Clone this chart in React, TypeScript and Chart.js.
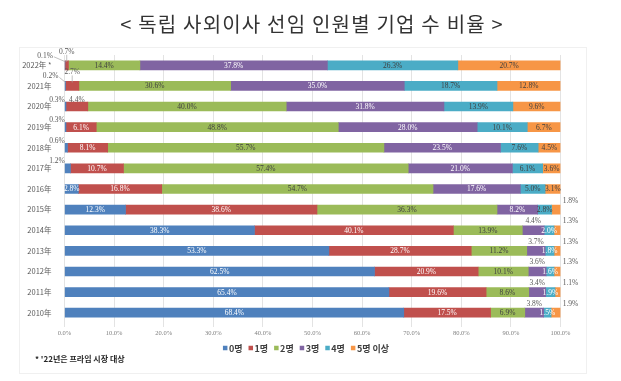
import React, { useEffect, useRef } from 'react';
import { Chart, registerables } from 'chart.js';

Chart.register(...registerables);

const titleText = '< 독립 사외이사 선임 인원별 기업 수 비율 >';
const footnote = "* '22년은 프라임 시장 대상";
const years = ['2022年 *', '2021年', '2020年', '2019年', '2018年', '2017年', '2016年', '2015年', '2014年', '2013年', '2012年', '2011年', '2010年'];
const seriesNames = ['0명', '1명', '2명', '3명', '4명', '5명 이상'];
const zero = [0.1, 0.2, 0.3, 0.3, 0.6, 1.2, 2.8, 12.3, 38.3, 53.3, 62.5, 65.4, 68.4];
const one = [0.7, 2.7, 4.4, 6.1, 8.1, 10.7, 16.8, 38.6, 40.1, 28.7, 20.9, 19.6, 17.5];
const two = [14.4, 30.6, 40.0, 48.8, 55.7, 57.4, 54.7, 36.3, 13.9, 11.2, 10.1, 8.6, 6.9];
const three = [37.8, 35.0, 31.8, 28.0, 23.5, 21.0, 17.6, 8.2, 4.4, 3.7, 3.6, 3.4, 3.8];
const four = [26.3, 18.7, 13.9, 10.1, 7.6, 6.1, 5.0, 2.8, 2.0, 1.8, 1.6, 1.9, 1.5];
const five = [20.7, 12.8, 9.6, 6.7, 4.5, 3.6, 3.1, 1.8, 1.3, 1.3, 1.3, 1.1, 1.9];
const xMin = 0;
const xMax = 100;
const xStep = 10;

const seriesValues = [zero, one, two, three, four, five];
const colors = ['#4F81BD', '#C0504D', '#9BBB59', '#8064A2', '#4BACC6', '#F79646'];
const labelColors = ['#ffffff', '#ffffff', '#404040', '#ffffff', '#404040', '#404040'];

const KR = '"Noto Sans CJK KR", "Noto Sans", sans-serif';
const SERIF = '"Liberation Serif", "DejaVu Serif", serif';

const decorPlugin = {
  id: 'decor',
  beforeDraw(chart: any) {
    const ctx = chart.ctx;
    ctx.save();
    ctx.strokeStyle = '#f0f0f0';
    ctx.lineWidth = 1;
    ctx.strokeRect(19.5, 47.5, 567, 326);
    ctx.restore();
  },
  afterDraw(chart: any) {
    const ctx = chart.ctx;
    ctx.save();
    // title
    ctx.font = `20px ${KR}`;
    ctx.fillStyle = '#333333';
    ctx.textAlign = 'center';
    ctx.textBaseline = 'middle';
    try {
      (ctx as any).letterSpacing = '1.2px';
    } catch (e) {}
    ctx.fillText(titleText, 312, 24);
    try {
      (ctx as any).letterSpacing = '0px';
    } catch (e) {}
    // legend
    ctx.font = `bold 9px ${KR}`;
    const box = 4.5;
    const gapBox = 1.5;
    const gapItem = 6;
    const widths = seriesNames.map((n) => ctx.measureText(n).width);
    const total = widths.reduce((a, w) => a + w + box + gapBox, 0) + gapItem * (seriesNames.length - 1);
    let x = 306 - total / 2;
    const ly = 348;
    ctx.textAlign = 'left';
    seriesNames.forEach((n, i) => {
      ctx.fillStyle = colors[i];
      ctx.fillRect(x, ly - box / 2, box, box);
      x += box + gapBox;
      ctx.fillStyle = '#404040';
      ctx.fillText(n, x, ly + 0.5);
      x += widths[i] + gapItem;
    });
    // footnote
    ctx.font = `bold 8px ${KR}`;
    ctx.fillStyle = '#262626';
    ctx.fillText(footnote, 35, 359);
    ctx.restore();
  },
};

const labelPlugin = {
  id: 'valueLabels',
  afterDatasetsDraw(chart: any) {
    const ctx = chart.ctx;
    ctx.save();
    ctx.font = `7.5px ${SERIF}`;
    ctx.textAlign = 'center';
    ctx.textBaseline = 'middle';
    const metas = chart.data.datasets.map((_: any, di: number) => chart.getDatasetMeta(di));
    chart.data.datasets.forEach((ds: any, di: number) => {
      const meta = metas[di];
      meta.data.forEach((bar: any, i: number) => {
        const v = ds.data[i] as number;
        const start = Math.min(bar.base, bar.x);
        const end = Math.max(bar.base, bar.x);
        const cx = (start + end) / 2;
        const txt = v.toFixed(1) + '%';
        const small =
          (di === 0 && v < 2) || (di === 1 && v < 5) || (di === 3 && v < 5) || (di === 5 && v < 2);
        if (!small) {
          ctx.fillStyle = di === 4 && v < 2.2 ? '#ffffff' : labelColors[di];
          ctx.fillText(txt, cx, bar.y + 0.5);
          return;
        }
        ctx.fillStyle = '#595959';
        const tw = ctx.measureText(txt).width;
        const top = bar.y - bar.height / 2;
        if (di === 0) {
          const nextBar = metas[1].data[i];
          const nextSmall = (chart.data.datasets[1].data[i] as number) < 5;
          const nextCx = (nextBar.base + nextBar.x) / 2;
          let lx = start - 8;
          let ly = bar.y - 7;
          if (nextSmall && nextCx - lx < tw + 2) {
            lx = nextCx - tw - 6;
            ly = bar.y - 9.5;
            ctx.strokeStyle = '#a6a6a6';
            ctx.lineWidth = 0.7;
            ctx.beginPath();
            ctx.moveTo(lx + tw / 2 + 1, ly + 1);
            ctx.lineTo(start + 0.5, top + 1);
            ctx.stroke();
          }
          ctx.fillText(txt, lx, ly);
        } else if (di === 1) {
          const prevSmall = (chart.data.datasets[0].data[i] as number) < 2;
          const prevBar = metas[0].data[i];
          const pStart = Math.min(prevBar.base, prevBar.x);
          let ly = bar.y - 7;
          if (prevSmall && cx - (pStart - 8) < tw + 2) {
            ly = bar.y - 13.5;
            ctx.strokeStyle = '#a6a6a6';
            ctx.lineWidth = 0.7;
            ctx.beginPath();
            ctx.moveTo(cx, ly + 3);
            ctx.lineTo(cx, top + 1);
            ctx.stroke();
          }
          ctx.fillText(txt, cx, ly);
        } else if (di === 3) {
          ctx.fillText(txt, cx, bar.y - 9);
        } else if (di === 5) {
          ctx.fillText(txt, end + 10, bar.y - 9);
        }
      });
    });
    ctx.restore();
  },
};

export default function App() {
  const ref = useRef<HTMLCanvasElement | null>(null);
  useEffect(() => {
    if (!ref.current) return;
    const chart = new Chart(ref.current, {
      type: 'bar',
      data: {
        labels: years,
        datasets: seriesNames.map((name, i) => ({
          label: name,
          data: seriesValues[i],
          backgroundColor: colors[i],
          borderWidth: 0,
          barThickness: 9,
        })),
      },
      options: {
        indexAxis: 'y',
        animation: false,
        responsive: false,
        maintainAspectRatio: false,
        layout: { padding: { top: 55, right: 60.5, bottom: 43, left: 0 } },
        plugins: {
          legend: { display: false },
          title: { display: false },
          tooltip: { enabled: false },
        },
        scales: {
          x: {
            stacked: true,
            min: xMin,
            max: xMax,
            ticks: {
              stepSize: xStep,
              callback: (v: any) => Number(v).toFixed(1) + '%',
              font: { size: 6.5, family: SERIF },
              color: '#808080',
              padding: 2,
              maxRotation: 0,
            },
            grid: { color: '#e3e3e3', lineWidth: 1, tickLength: 4 },
            border: { display: false },
            afterFit: (scale: any) => {
              scale.height = 15;
            },
          },
          y: {
            stacked: true,
            ticks: {
              font: { size: 7.5, family: KR },
              color: '#595959',
              padding: 5,
            },
            grid: { display: false },
            border: { display: false },
            afterFit: (scale: any) => {
              scale.width = 64.5;
            },
          },
        },
      } as any,
      plugins: [decorPlugin, labelPlugin],
    });
    return () => chart.destroy();
  }, []);
  return (
    <div style={{ position: 'fixed', left: 0, top: 0, width: 621, height: 381, background: '#ffffff' }}>
      <canvas ref={ref} width={621} height={381} style={{ width: 621, height: 381 }} />
    </div>
  );
}
